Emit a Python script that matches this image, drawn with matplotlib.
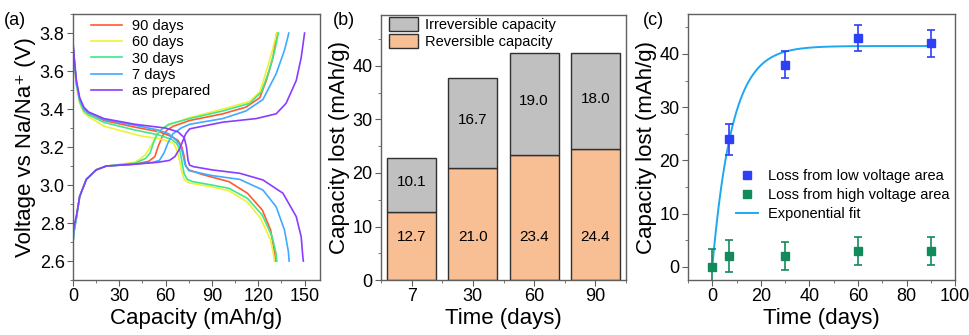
import numpy as np
import matplotlib
matplotlib.use('Agg')
import matplotlib.pyplot as plt
from matplotlib.lines import Line2D

plt.rcParams['font.family'] = ['Liberation Sans', 'DejaVu Sans']

# ---- (a) charge / discharge curves: capacity (mAh/g), voltage (V)
dis_prep_x = [0, 1, 2.2, 4.3, 7, 10, 20, 40, 60, 68, 72, 73.5, 74.5, 75.5, 78, 90, 108, 123, 136, 144.6, 147.8, 148.9, 149.2]
dis_prep_y = [3.75, 3.65, 3.55, 3.46, 3.41, 3.385, 3.35, 3.32, 3.30, 3.28, 3.25, 3.20, 3.13, 3.105, 3.097, 3.08, 3.062, 3.027, 2.957, 2.834, 2.728, 2.62, 2.6]
dis_7_x = [0, 1, 2.2, 4.3, 7, 10, 20, 40, 55, 62, 67, 70, 71.5, 72.5, 75, 90, 108, 123, 131.6, 137, 139.5, 140]
dis_7_y = [3.74, 3.64, 3.54, 3.45, 3.40, 3.38, 3.345, 3.315, 3.29, 3.27, 3.235, 3.20, 3.15, 3.11, 3.076, 3.05, 3.03, 2.974, 2.886, 2.763, 2.65, 2.6]
dis_90_x = [0, 1, 2.2, 4.3, 7, 10, 20, 40, 56, 64, 68, 70.5, 72, 73, 75, 84, 101, 113, 122.6, 128, 130.5, 131]
dis_90_y = [3.73, 3.63, 3.53, 3.45, 3.40, 3.38, 3.34, 3.305, 3.28, 3.255, 3.235, 3.20, 3.15, 3.10, 3.08, 3.055, 3.018, 2.957, 2.869, 2.763, 2.65, 2.6]
dis_30_x = [0, 1, 2.2, 4.3, 7, 10, 20, 40, 55, 64, 67, 69, 70, 71, 72, 74, 77.6, 90, 101, 113, 122.6, 129, 131.5, 132]
dis_30_y = [3.73, 3.63, 3.53, 3.44, 3.39, 3.37, 3.33, 3.29, 3.265, 3.24, 3.22, 3.19, 3.15, 3.10, 3.06, 3.03, 3.018, 3.0, 2.983, 2.93, 2.842, 2.728, 2.64, 2.6]
dis_60_x = [0, 1, 2.2, 4.3, 7, 10, 20, 43, 55, 62, 65, 67, 69, 70.5, 72, 75, 90, 101, 113, 121.5, 128, 130, 130.5]
dis_60_y = [3.72, 3.62, 3.52, 3.43, 3.38, 3.36, 3.31, 3.26, 3.245, 3.23, 3.22, 3.19, 3.13, 3.07, 3.03, 3.012, 2.99, 2.97, 2.91, 2.825, 2.71, 2.63, 2.6]

chg_prep_x = [0, 0.5, 2.2, 4.3, 8.6, 15, 21.5, 40, 55, 62.5, 66, 69, 71, 73, 75.6, 97, 118.7, 131.6, 138, 144.6, 147.8, 150]
chg_prep_y = [2.74, 2.78, 2.84, 2.94, 3.03, 3.08, 3.10, 3.11, 3.12, 3.13, 3.15, 3.19, 3.23, 3.27, 3.296, 3.331, 3.35, 3.375, 3.43, 3.55, 3.67, 3.80]
chg_7_x = [0, 0.5, 2.2, 4.3, 8.6, 15, 21.5, 40, 52, 56, 59, 61.4, 64.7, 70, 75.6, 97, 112, 123, 131.6, 137, 139.8]
chg_7_y = [2.70, 2.75, 2.83, 2.94, 3.03, 3.08, 3.10, 3.11, 3.12, 3.13, 3.17, 3.22, 3.27, 3.30, 3.32, 3.35, 3.39, 3.45, 3.586, 3.71, 3.80]
chg_90_x = [0, 0.5, 2.2, 4.3, 8.6, 15, 21.5, 40, 49, 53, 55, 58, 61, 65, 75.6, 97, 112, 121, 125.2, 129.5, 132]
chg_90_y = [2.70, 2.75, 2.83, 2.94, 3.03, 3.08, 3.10, 3.11, 3.125, 3.15, 3.20, 3.26, 3.29, 3.31, 3.34, 3.375, 3.41, 3.46, 3.55, 3.67, 3.80]
chg_30_x = [0, 0.5, 2.2, 4.3, 8.6, 15, 21.5, 40, 47, 50, 52, 54, 57, 62, 75.6, 97, 114.4, 122, 127, 131, 133]
chg_30_y = [2.70, 2.75, 2.83, 2.94, 3.03, 3.08, 3.10, 3.115, 3.14, 3.17, 3.22, 3.26, 3.29, 3.32, 3.35, 3.39, 3.43, 3.49, 3.60, 3.72, 3.80]
chg_60_x = [0, 0.5, 2.2, 4.3, 8.6, 15, 21.5, 40, 43, 47, 50, 52, 55, 60, 75.6, 97, 114.4, 121, 126, 129.5, 132]
chg_60_y = [2.70, 2.75, 2.83, 2.94, 3.03, 3.08, 3.10, 3.12, 3.135, 3.16, 3.20, 3.23, 3.28, 3.31, 3.355, 3.40, 3.44, 3.49, 3.62, 3.72, 3.80]

curve_labels = ['90 days', '60 days', '30 days', '7 days', 'as prepared']
curve_colors = ['#FF5A30', '#F0F03A', '#3EE88A', '#40AAFF', '#8A3CFF']
charge = [(chg_90_x, chg_90_y), (chg_60_x, chg_60_y), (chg_30_x, chg_30_y),
          (chg_7_x, chg_7_y), (chg_prep_x, chg_prep_y)]
discharge = [(dis_90_x, dis_90_y), (dis_60_x, dis_60_y), (dis_30_x, dis_30_y),
             (dis_7_x, dis_7_y), (dis_prep_x, dis_prep_y)]

# ---- (b) stacked bars
days_b = ['7', '30', '60', '90']
reversible = [12.7, 21.0, 23.4, 24.4]
irreversible = [10.1, 16.7, 19.0, 18.0]

# ---- (c) loss vs time
t_low = [7, 30, 60, 90]
loss_low = [24, 38, 43, 42]
err_low = [2.9, 2.6, 2.5, 2.5]
t_high = [0, 7, 30, 60, 90]
loss_high = [0, 2, 2, 3, 3]
err_high = [3.3, 3.0, 2.7, 2.6, 2.6]
fit_A, fit_tau = 41.5, 8.2   # y = A*(1-exp(-t/tau))

spine_col = '#606060'
col_low, col_high, col_fit = '#2E40F5', '#138A5C', '#1EA8F0'

def style_ax(ax):
    for s in ax.spines.values():
        s.set_color(spine_col)
        s.set_linewidth(1.0)
    ax.tick_params(which='both', direction='out', color=spine_col, top=False, right=False)
    ax.tick_params(which='major', length=4, labelsize=13, pad=2)
    ax.tick_params(which='minor', length=2.5)

fig = plt.figure(figsize=(9.7, 3.35), dpi=100)

# (a)
ax1 = fig.add_axes([0.0753, 0.164, 0.2546, 0.794])
for (cx, cy), (dx, dy), c, lab in zip(charge, discharge, curve_colors, curve_labels):
    ax1.plot(cx, cy, color=c, lw=1.2)
    ax1.plot(dx, dy, color=c, lw=1.2, label=lab)
ax1.set_xlim(0, 160)
ax1.set_ylim(2.5, 3.9)
ax1.set_xticks([0, 30, 60, 90, 120, 150])
ax1.set_xticks(np.arange(15, 160, 30), minor=True)
ax1.set_yticks([2.6, 2.8, 3.0, 3.2, 3.4, 3.6, 3.8])
ax1.set_yticks(np.arange(2.5, 3.91, 0.1), minor=True)
style_ax(ax1)
ax1.set_xlabel('Capacity (mAh/g)', fontsize=16, labelpad=2)
ax1.set_ylabel('Voltage vs Na/Na\u207a (V)', fontsize=16, labelpad=3)
ax1.legend(loc='upper left', frameon=False, fontsize=10.5, handlelength=2.1,
           handletextpad=0.7, labelspacing=0.15, bbox_to_anchor=(0.02, 1.03))
fig.text(0.004, 0.965, '(a)', fontsize=13, va='top')

# (b)
ax2 = fig.add_axes([0.3928, 0.164, 0.2526, 0.791])
xb = np.arange(len(days_b))
ax2.bar(xb, reversible, width=0.8, color='#F9BF94', edgecolor='#303030', lw=1.0,
        label='Reversible capacity')
ax2.bar(xb, irreversible, width=0.8, bottom=reversible, color='#C0C0C0',
        edgecolor='#303030', lw=1.0, label='Irreversible capacity')
for i in range(len(days_b)):
    ax2.text(xb[i], 8, f'{reversible[i]:.1f}', ha='center', va='center', fontsize=11)
    ax2.text(xb[i], reversible[i] + irreversible[i] / 2 + 0.5,
             f'{irreversible[i]:.1f}', ha='center', va='center', fontsize=11)
ax2.set_xlim(-0.5, 3.5)
ax2.set_ylim(0, 49.5)
ax2.set_xticks(xb)
ax2.set_xticklabels(days_b)
ax2.set_xticks([-0.5, 0.5, 1.5, 2.5, 3.5], minor=True)
ax2.set_yticks([0, 10, 20, 30, 40])
ax2.set_yticks(np.arange(5, 49, 10), minor=True)
style_ax(ax2)
ax2.set_xlabel('Time (days)', fontsize=16, labelpad=2)
ax2.set_ylabel('Capacity lost (mAh/g)', fontsize=16, labelpad=2)
h, l = ax2.get_legend_handles_labels()
ax2.legend(h[::-1], l[::-1], loc='upper left', frameon=False, fontsize=10.5,
           handlelength=2.0, handleheight=1.1, handletextpad=0.45, labelspacing=0.15,
           borderaxespad=0.0, bbox_to_anchor=(0.01, 1.015))
fig.text(0.343, 0.965, '(b)', fontsize=13, va='top')

# (c)
ax3 = fig.add_axes([0.7093, 0.164, 0.2753, 0.794])
tf = np.linspace(0, 90, 200)
ax3.errorbar(t_low, loss_low, yerr=err_low, fmt='s', color=col_low, ms=6,
             capsize=3, elinewidth=1.2, capthick=1.2, zorder=3)
ax3.errorbar(t_high, loss_high, yerr=err_high, fmt='s', color=col_high, ms=6,
             capsize=3, elinewidth=1.2, capthick=1.2, zorder=3)
ax3.plot(tf, fit_A * (1 - np.exp(-tf / fit_tau)), color=col_fit, lw=1.4, zorder=2)
ax3.set_xlim(-10, 100)
ax3.set_ylim(-2.5, 47.5)
ax3.set_xticks([0, 20, 40, 60, 80, 100])
ax3.set_xticks(np.arange(-10, 101, 10), minor=True)
ax3.set_yticks([0, 10, 20, 30, 40])
ax3.set_yticks(np.arange(5, 47, 10), minor=True)
style_ax(ax3)
ax3.set_xlabel('Time (days)', fontsize=16, labelpad=2)
ax3.set_ylabel('Capacity lost (mAh/g)', fontsize=16, labelpad=2)
handles = [Line2D([], [], ls='none', marker='s', color=col_low, ms=6),
           Line2D([], [], ls='none', marker='s', color=col_high, ms=6),
           Line2D([], [], color=col_fit, lw=1.4)]
ax3.legend(handles, ['Loss from low voltage area', 'Loss from high voltage area',
                     'Exponential fit'], loc='center left', frameon=False, fontsize=10.5,
           bbox_to_anchor=(0.13, 0.32), handlelength=1.5, handletextpad=0.7,
           labelspacing=0.35)
fig.text(0.663, 0.965, '(c)', fontsize=13, va='top')

fig.savefig('out.png', dpi=100)
